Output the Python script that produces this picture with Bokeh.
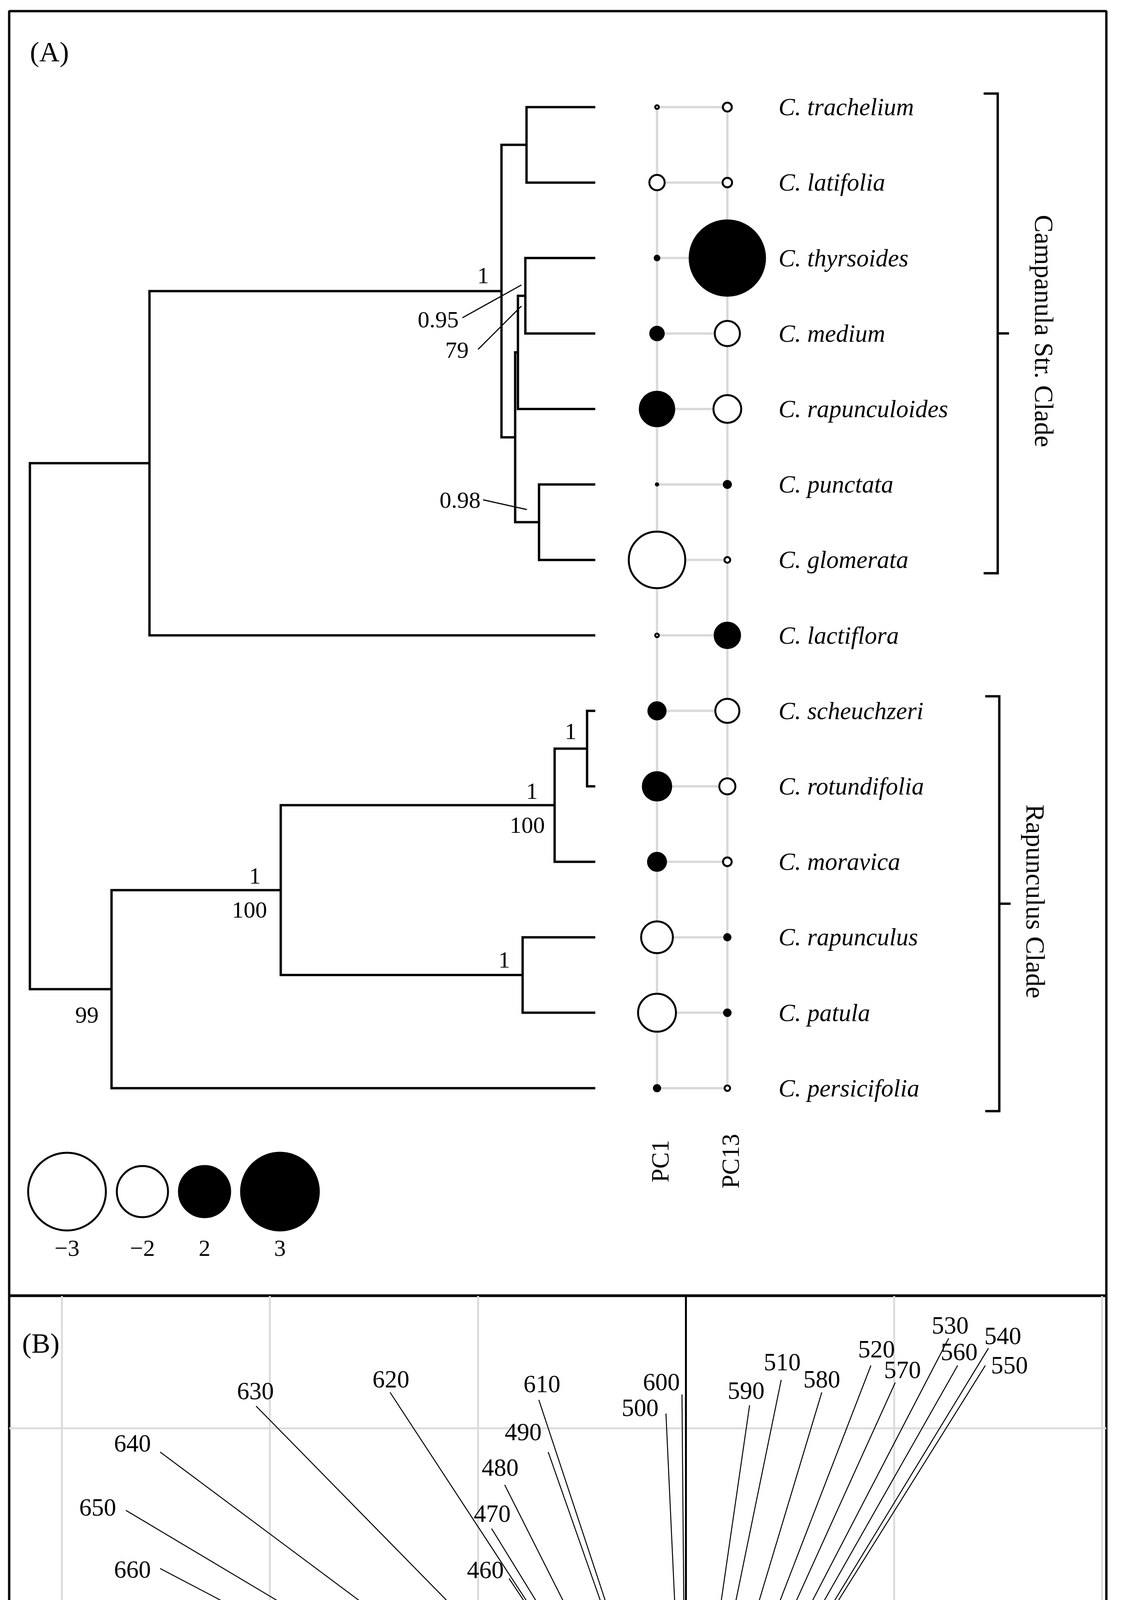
import math
from bokeh.plotting import figure
from bokeh.models import Range1d, Span, Grid, FixedTicker, ColumnDataSource
from bokeh.layouts import column
from bokeh.embed import file_html
from bokeh.resources import INLINE
from bokeh.core.properties import value

FONT = value("Liberation Serif")

# ---------------------------------------------------------------- data (A)
species = ["C. trachelium", "C. latifolia", "C. thyrsoides", "C. medium",
           "C. rapunculoides", "C. punctata", "C. glomerata", "C. lactiflora",
           "C. scheuchzeri", "C. rotundifolia", "C. moravica", "C. rapunculus",
           "C. patula", "C. persicifolia"]
pc1 = [-0.21, -0.65, 0.25, 0.58, 1.37, 0.16, -2.20, -0.21,
       0.72, 1.14, 0.75, -1.27, -1.50, 0.31]
pc13 = [-0.41, -0.43, 2.91, -1.02, -1.12, 0.34, -0.29, 1.03,
        -0.98, -0.68, -0.40, 0.31, 0.32, -0.28]
pc_names = ["PC1", "PC13"]

# internal node -> (children, depth from root; tips at depth 1)
tree_children = {
    "root": ["nA", "nB"],
    "nA": ["nP", "C. lactiflora"],
    "nP": ["nTL", "nQ"],
    "nTL": ["C. trachelium", "C. latifolia"],
    "nQ": ["nR", "nS"],
    "nR": ["nT", "C. rapunculoides"],
    "nT": ["C. thyrsoides", "C. medium"],
    "nS": ["C. punctata", "C. glomerata"],
    "nB": ["nC", "C. persicifolia"],
    "nC": ["nD", "nF"],
    "nD": ["nE", "C. moravica"],
    "nE": ["C. scheuchzeri", "C. rotundifolia"],
    "nF": ["C. rapunculus", "C. patula"],
}
tree_depth = {"root": 0.0, "nA": 0.2115, "nP": 0.8341, "nTL": 0.8784,
              "nQ": 0.8583, "nR": 0.8632, "nT": 0.8763, "nS": 0.9005,
              "nB": 0.1444, "nC": 0.4437, "nD": 0.9281, "nE": 0.9855,
              "nF": 0.8715}
TIP_DEPTH = 1.0

support_text = ["1", "0.95", "79", "0.98", "1", "1", "100", "1", "100", "1", "99"]

clade_names = ["Campanula Str. Clade", "Rapunculus Clade"]

legend_values = [-3, -2, 2, 3]
legend_labels = ["\u22123", "\u22122", "2", "3"]

# ---------------------------------------------------------------- data (B)
wavelength = [360, 370, 380, 390, 400, 410, 420, 430, 460, 470, 480, 490,
              500, 510, 520, 530, 540, 550, 560, 570, 580, 590, 600, 610,
              620, 630, 640, 650, 660, 670, 680, 690, 700]
load_pc1 = [-0.1750, -0.2287, -0.2330, -0.2330, -0.2567, -0.2666, -0.2257,
            -0.1448, -0.0850, -0.0934, -0.0871, -0.0662, -0.0096, 0.0458,
            0.0889, 0.1263, 0.1454, 0.1439, 0.1306, 0.1006, 0.0653, 0.0306,
            -0.0019, -0.0707, -0.1422, -0.2066, -0.2527, -0.2692, -0.2527,
            -0.2495, -0.2330, -0.1876, -0.1514]
load_pc13 = [-0.0668, -0.1034, -0.1340, -0.1396, -0.1231, -0.0953, -0.0510,
             0.0096, 0.1278, 0.1518, 0.1728, 0.1886, 0.2071, 0.2233, 0.2302,
             0.2433, 0.2385, 0.2302, 0.2302, 0.2220, 0.2173, 0.2111, 0.2163,
             0.2137, 0.2173, 0.2107, 0.1886, 0.1606, 0.1326, 0.0961, 0.0782,
             0.0859, 0.0961]
label_pc1 = [-0.1831, -0.2415, -0.2454, -0.2448, -0.2696, -0.2799, -0.2400,
             -0.1604, -0.0964, -0.0931, -0.0893, -0.0782, -0.0220, 0.0463,
             0.0916, 0.1270, 0.1523, 0.1555, 0.1313, 0.1041, 0.0653, 0.0289,
             -0.0118, -0.0692, -0.1418, -0.2069, -0.2660, -0.2827, -0.2660,
             -0.2634, -0.2463, -0.2008, -0.1499]
label_pc13 = [-0.0724, -0.1041, -0.1336, -0.1439, -0.1246, -0.0959, -0.0512,
              0.0088, 0.1319, 0.1589, 0.1811, 0.1983, 0.2098, 0.2319, 0.2381,
              0.2495, 0.2445, 0.2304, 0.2368, 0.2280, 0.2236, 0.2182, 0.2223,
              0.2214, 0.2236, 0.2180, 0.1927, 0.1619, 0.1321, 0.0940, 0.0779,
              0.0863, 0.1024]
grid_step = 0.1

# ---------------------------------------------------------------- layout
W = 2853
HA = 3317
HB = 2354
BLACK = "black"
GREY = "#d9d9d9"

# panel A geometry (page pixels) -> data units
X0, XS = 84.0, 1447.0     # px of depth 0, px per unit depth
Y0, YS = 281.7, 193.2     # px of tip 0, px per tip


def ax(px):
    return (px - X0) / XS


def ay(py):
    return (py - Y0) / YS


pA = figure(width=W, height=HA,
            x_range=Range1d(ax(31), ax(2839)),
            y_range=Range1d(ay(3325), ay(36)),
            x_axis_location=None, y_axis_location=None,
            toolbar_location=None, output_backend="svg",
            min_border_left=23, min_border_right=22,
            min_border_top=28, min_border_bottom=0,
            outline_line_color=BLACK, outline_line_width=6,
            background_fill_color="white", border_fill_color="white")
for g in pA.grid:
    g.visible = False

# --- tree
tip_index = {s: i for i, s in enumerate(species)}
node_y = {}


def get_y(n):
    if n in tip_index:
        return float(tip_index[n])
    if n not in node_y:
        ch = tree_children[n]
        node_y[n] = (get_y(ch[0]) + get_y(ch[-1])) / 2.0
    return node_y[n]


def get_x(n):
    return TIP_DEPTH if n in tip_index else tree_depth[n]


txs, tys = [], []
for n, ch in tree_children.items():
    c1, c2 = ch[0], ch[-1]
    d = tree_depth[n]
    txs.append([get_x(c1), d, d, get_x(c2)])
    tys.append([get_y(c1), get_y(c1), get_y(c2), get_y(c2)])
pA.multi_line(txs, tys, line_color=BLACK, line_width=6, line_join="miter")

# --- support values
sup_px = [(1244, 713), (1129, 826), (1177, 904), (1185, 1288), (1468, 1880),
          (1369, 2033), (1357, 2120), (660, 2250), (646, 2337), (1298, 2465),
          (230, 2606)]
pA.text(x=[ax(p[0]) for p in sup_px], y=[ay(p[1]) for p in sup_px],
        text=support_text, text_font=FONT, text_font_size="60px",
        text_align="center", text_baseline="middle", text_color=BLACK)
lead_px = [(1191, 821, 1342, 737), (1231, 902, 1342, 791), (1244, 1287, 1356, 1312)]
pA.segment(x0=[ax(l[0]) for l in lead_px], y0=[ay(l[1]) for l in lead_px],
           x1=[ax(l[2]) for l in lead_px], y1=[ay(l[3]) for l in lead_px],
           line_color=BLACK, line_width=3)

# --- trait columns
ncol_x = [ax(1689), ax(1869)]
n = len(species)
idx = list(range(n))
pA.segment(x0=[ncol_x[0]] * n, y0=idx, x1=[ncol_x[1]] * n, y1=idx,
           line_color=GREY, line_width=6)
pA.segment(x0=ncol_x, y0=[0, 0], x1=ncol_x, y1=[n - 1, n - 1],
           line_color=GREY, line_width=6)

R_PER_UNIT = 34.0
DOT_LW = 5


def dot_size(v):
    return max(2 * R_PER_UNIT * abs(v) - DOT_LW, 1.5)


dx, dy, ds, dfill = [], [], [], []
for ci, vals in enumerate([pc1, pc13]):
    for i, v in enumerate(vals):
        dx.append(ncol_x[ci])
        dy.append(i)
        ds.append(dot_size(v))
        dfill.append(BLACK if v > 0 else "white")
pA.scatter(x="x", y="y", size="s", fill_color="f", marker="circle",
           line_color=BLACK, line_width=DOT_LW,
           source=ColumnDataSource(dict(x=dx, y=dy, s=ds, f=dfill)))

pA.text(x=[ax(2000)] * n, y=idx, text=species, text_font=FONT,
        text_font_style="italic", text_font_size="63px",
        text_align="left", text_baseline="middle", text_color=BLACK)

pA.text(x=[ax(1697), ax(1877)], y=[ay(2980)] * 2, text=pc_names,
        angle=math.pi / 2, text_font=FONT, text_font_size="63px",
        text_align="center", text_baseline="middle", text_color=BLACK)

# --- clade brackets
br_top = [ay(247), ay(1790)]
br_bot = [ay(1475), ay(2852)]
br_x = [ax(2561), ax(2565)]
br_in = 36 / XS
br_out = 29 / XS
bxs, bys = [], []
for k in range(2):
    bxs.append([br_x[k] - br_in, br_x[k], br_x[k], br_x[k] - br_in])
    bys.append([br_top[k], br_top[k], br_bot[k], br_bot[k]])
    mid = (br_top[k] + br_bot[k]) / 2
    bxs.append([br_x[k], br_x[k] + br_out])
    bys.append([mid, mid])
pA.multi_line(bxs, bys, line_color=BLACK, line_width=6, line_join="miter")
pA.text(x=[ax(2679), ax(2657)],
        y=[(br_top[k] + br_bot[k]) / 2 - 6 / YS for k in range(2)],
        text=clade_names, angle=-math.pi / 2, text_font=FONT,
        text_font_size="68px", text_align="center", text_baseline="middle",
        text_color=BLACK)

# --- size legend
gap = 23
left = 77
lx_px = []
for v in legend_values:
    r = R_PER_UNIT * abs(v)
    lx_px.append(left + r)
    left += 2 * r + gap
pA.scatter(x=[ax(p) for p in lx_px], y=[ay(3058)] * 4,
           size=[dot_size(v) for v in legend_values], marker="circle",
           fill_color=[BLACK if v > 0 else "white" for v in legend_values],
           line_color=BLACK, line_width=DOT_LW)
pA.text(x=[ax(p) for p in lx_px], y=[ay(3203)] * 4, text=legend_labels,
        text_font=FONT, text_font_size="60px", text_align="center",
        text_baseline="middle", text_color=BLACK)

pA.text(x=[ax(84)], y=[ay(140)], text=["(A)"], text_font=FONT,
        text_font_size="72px", text_align="left", text_baseline="middle",
        text_color=BLACK)

# ---------------------------------------------------------------- panel B
OX, OY, BS = 1763.0, 4729.0, 5325.0


def bx(px):
    return (px - OX) / BS


def by(py):
    return (OY - py) / BS


pB = figure(width=W, height=HB,
            x_range=Range1d(bx(31), bx(2839)),
            y_range=Range1d(by(5675), by(3325)),
            x_axis_location=None, y_axis_location=None,
            toolbar_location=None, output_backend="svg",
            min_border_left=23, min_border_right=22,
            min_border_top=0, min_border_bottom=4,
            outline_line_color=BLACK, outline_line_width=6,
            background_fill_color="white", border_fill_color="white")
for g in pB.grid:
    g.visible = False

xt = [k * grid_step for k in range(-3, 3)]
yt = [k * grid_step for k in range(-1, 3)]
pB.add_layout(Grid(dimension=0, ticker=FixedTicker(ticks=xt),
                   grid_line_color="#dcdcdc", grid_line_width=5))
pB.add_layout(Grid(dimension=1, ticker=FixedTicker(ticks=yt),
                   grid_line_color="#dcdcdc", grid_line_width=5))
pB.add_layout(Span(location=0, dimension="width", line_color=BLACK, line_width=5))
pB.add_layout(Span(location=0, dimension="height", line_color=BLACK, line_width=5))

m = len(wavelength)
pB.segment(x0=[0] * m, y0=[0] * m, x1=load_pc1, y1=load_pc13,
           line_color=BLACK, line_width=2.5)
pB.text(x=label_pc1, y=label_pc13, text=[str(w) for w in wavelength],
        text_font=FONT, text_font_size="63px", text_align="center",
        text_baseline="middle", text_color=BLACK)

pB.text(x=[bx(2589)], y=[by(4661)], text=["PC1"], text_font=FONT,
        text_font_size="66px", text_align="left", text_baseline="middle",
        text_color=BLACK)
pB.text(x=[bx(1677)], y=[by(5578)], text=["PC13"], text_font=FONT,
        text_font_size="66px", text_align="right", text_baseline="middle",
        text_color=BLACK)
pB.text(x=[bx(2589)], y=[by(5582)], text=["D=0.1"], text_font=FONT,
        text_font_size="66px", text_align="left", text_baseline="middle",
        text_color=BLACK)
pB.text(x=[bx(64)], y=[by(3446)], text=["(B)"], text_font=FONT,
        text_font_size="72px", text_align="left", text_baseline="middle",
        text_color=BLACK)

layout = column(pA, pB, spacing=0)
open("out.html", "w").write(file_html(layout, INLINE))
